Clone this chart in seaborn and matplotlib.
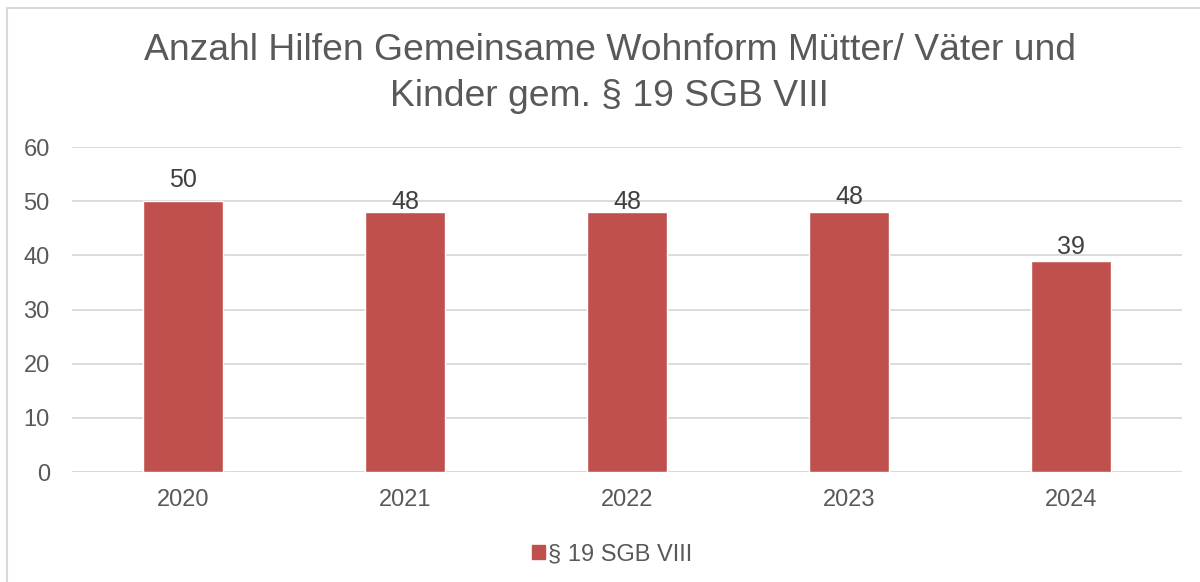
import matplotlib
matplotlib.use("Agg")
import matplotlib.pyplot as plt
import seaborn as sns
import pandas as pd
from matplotlib.patches import Patch, Rectangle

# data
years = ["2020", "2021", "2022", "2023", "2024"]
values = [50, 48, 48, 48, 39]
series_name = "§ 19 SGB VIII"
title = "Anzahl Hilfen Gemeinsame Wohnform Mütter/ Väter und\nKinder gem. § 19 SGB VIII"

# style
BAR_COLOR = "#C0504D"
TEXT_COLOR = "#595959"
GRID_COLOR = "#D9D9D9"
label_offsets = [15, 7, 7, 11, 10]  # points above the bar top

sns.set_theme(style="white")
plt.rcParams["font.family"] = ["Liberation Sans", "DejaVu Sans"]

df = pd.DataFrame({"Jahr": years, "Anzahl": values})

fig = plt.figure(figsize=(12, 5.82), dpi=100)
ax = fig.add_axes([0.06, 0.189, 0.925, 0.5584])

sns.barplot(data=df, x="Jahr", y="Anzahl", color=BAR_COLOR, width=0.36,
            saturation=1, ax=ax)

ax.set_ylim(0, 60)
ax.set_yticks(range(0, 61, 10))
ax.yaxis.grid(True, color=GRID_COLOR, linewidth=1.3)
ax.set_axisbelow(True)
for s in ax.spines.values():
    s.set_visible(False)
ax.set_xlabel("")
ax.set_ylabel("")
ax.tick_params(axis="both", length=0, labelsize=17, colors=TEXT_COLOR)
ax.tick_params(axis="x", pad=12)
ax.tick_params(axis="y", pad=16)
ax.axhline(0, color=GRID_COLOR, linewidth=1.3, zorder=0)

for i, (v, off) in enumerate(zip(values, label_offsets)):
    ax.annotate(str(v), (i, v), xytext=(0, off), textcoords="offset points",
                ha="center", va="center", fontsize=18, color="#404040")

fig.text(0.508, 1 - 73.5 / 582, title, ha="center", va="center",
         fontsize=26.8, color=TEXT_COLOR, linespacing=1.4)

handle = Patch(facecolor=BAR_COLOR, edgecolor=BAR_COLOR)
fig.legend([handle], [series_name], loc="center", bbox_to_anchor=(0.51, 0.048),
           frameon=False, fontsize=17, handlelength=0.55, handleheight=0.55,
           handletextpad=0.15, labelcolor=TEXT_COLOR)

# light chart border (only top and left visible in the crop)
fig.add_artist(Rectangle((7 / 1200, -0.05), 1.2, 1 - 8 / 582 + 0.05,
                         transform=fig.transFigure, fill=False,
                         edgecolor=GRID_COLOR, linewidth=1.5))

fig.savefig("out.png", dpi=100)
